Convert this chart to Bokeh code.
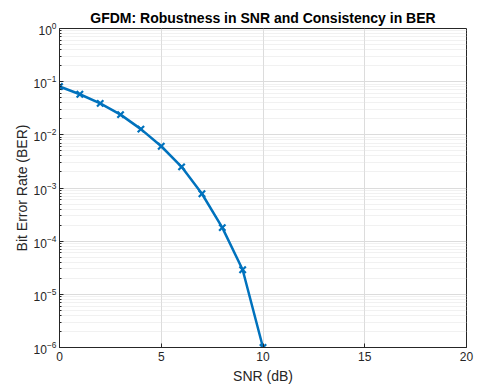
from bokeh.plotting import figure
from bokeh.models import FixedTicker, LogTickFormatter, Range1d
from bokeh.embed import file_html
from bokeh.resources import INLINE

snr_db = [0, 1, 2, 3, 4, 5, 6, 7, 8, 9, 10]
ber = [0.081, 0.058, 0.039, 0.024, 0.0128, 0.0061, 0.0025, 0.00078, 0.00018, 2.9e-5, 1.0e-6]
x_ticks = [0, 5, 10, 15, 20]
y_ticks = [1e-6, 1e-5, 1e-4, 1e-3, 1e-2, 1e-1, 1.0]

minor_y = [m * 10.0 ** d for d in range(-6, 0) for m in range(2, 10)]

FONT = "Liberation Sans"
TXT = "#262626"
BLUE = "#0072BD"

p = figure(
    frame_width=407, frame_height=319,
    x_range=Range1d(0, 20), y_range=Range1d(1e-6, 1.0),
    y_axis_type="log",
    output_backend="svg", toolbar_location=None,
    min_border_left=59, min_border_right=10, min_border_top=28, min_border_bottom=39,
    background_fill_color="white", border_fill_color="white",
)
p.outline_line_color = TXT
p.outline_line_width = 1

p.title.text = "GFDM: Robustness in SNR and Consistency in BER"
p.title.text_font = FONT
p.title.text_font_size = "14px"
p.title.text_font_style = "bold"
p.title.align = "center"
p.title.text_color = "black"
p.title.offset = 0
p.title.standoff = 5

# axes
p.xaxis.ticker = FixedTicker(ticks=x_ticks)
p.yaxis.ticker = FixedTicker(ticks=y_ticks, minor_ticks=minor_y)
p.yaxis.formatter = LogTickFormatter()
for ax in (p.xaxis[0], p.yaxis[0]):
    ax.axis_line_color = TXT
    ax.major_tick_line_color = TXT
    ax.minor_tick_line_color = TXT
    ax.major_tick_in = 4
    ax.major_tick_out = 0
    ax.minor_tick_in = 2
    ax.minor_tick_out = 0
    ax.major_label_text_font = FONT
    ax.major_label_text_font_size = "12px"
    ax.major_label_text_color = TXT
    ax.axis_label_text_font = FONT
    ax.axis_label_text_font_size = "14px"
    ax.axis_label_text_font_style = "normal"
    ax.axis_label_text_color = TXT
p.xaxis.minor_tick_line_color = None
p.xaxis.axis_label = "SNR (dB)"
p.yaxis.axis_label = "Bit Error Rate (BER)"
p.xaxis.major_label_standoff = 4
p.yaxis.major_label_standoff = 3
p.xaxis.axis_label_standoff = 4
p.yaxis.axis_label_standoff = 1

# grids
p.xgrid.grid_line_color = "#dcdcdc"
p.ygrid.grid_line_color = "#dcdcdc"
p.ygrid.minor_grid_line_color = "#e2e2e2"
p.ygrid.minor_grid_line_dash = "1 1"

p.line(snr_db, ber, line_color=BLUE, line_width=2.5)
p.scatter(snr_db, ber, marker="x", size=9, line_color=BLUE, line_width=2.2)

open("out.html", "w").write(file_html(p, INLINE))
